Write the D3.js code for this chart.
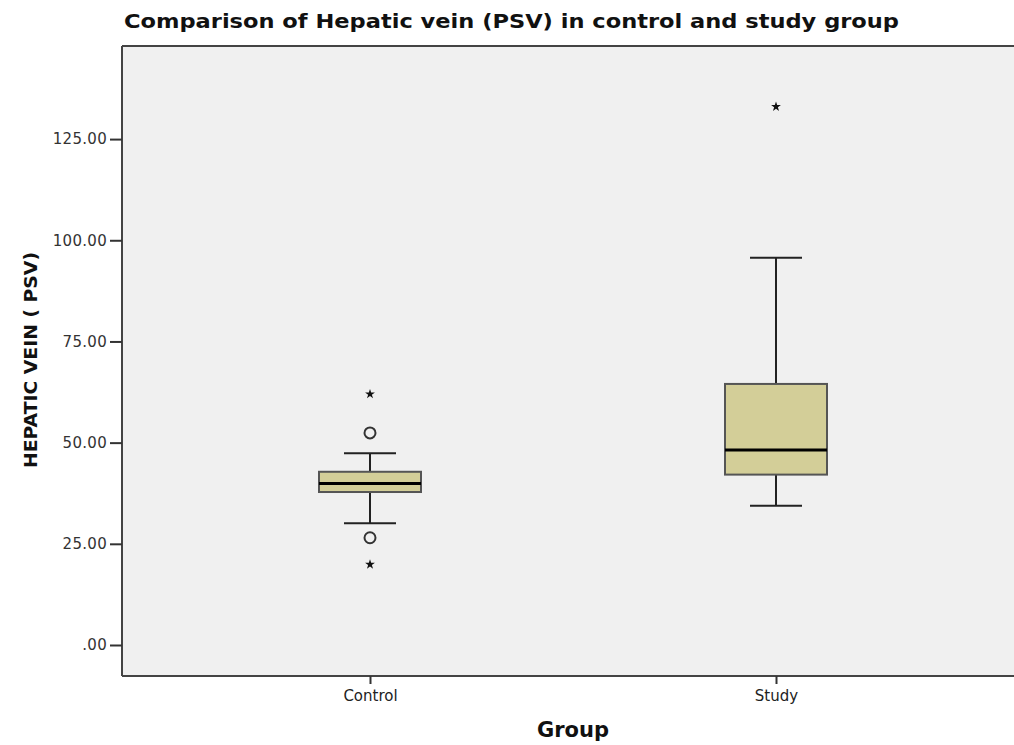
<!DOCTYPE html>
<html>
<head>
<meta charset="utf-8">
<script src="https://cdn.jsdelivr.net/npm/d3@7"></script>
<style>
  body { margin: 0; background: #fff; }
  text { font-family: "DejaVu Sans", "Liberation Sans", Arial, sans-serif; }
</style>
</head>
<body>
<div id="chart"></div>
<script>
// data
const groups = ["Control", "Study"];
const whiskerLow = [30.1, 34.4];
const q1 = [37.8, 42.1];
const median = [39.9, 48.2];
const q3 = [42.8, 64.5];
const whiskerHigh = [47.4, 95.7];
// outliers (circles) and extremes (stars)
const outliers = [
  {group: "Control", value: 52.4},
  {group: "Control", value: 26.5}
];
const extremes = [
  {group: "Control", value: 62.0},
  {group: "Control", value: 19.9},
  {group: "Study", value: 133.0}
];
const yTicks = [0, 25, 50, 75, 100, 125];

const width = 1014, height = 745;
const plotLeft = 122, plotTop = 46, plotRight = 1200, plotBottom = 676;
const font = "DejaVu Sans, Liberation Sans, Arial, sans-serif";

const svg = d3.select("#chart")
  .append("svg")
  .attr("width", width)
  .attr("height", height);

const x = d3.scalePoint()
  .domain(groups)
  .range([370, 776]);

const y = d3.scaleLinear()
  .domain([-7.66, 148])
  .range([plotBottom, plotTop]);

// plot background
svg.append("rect")
  .attr("x", plotLeft)
  .attr("y", plotTop)
  .attr("width", plotRight - plotLeft)
  .attr("height", plotBottom - plotTop)
  .attr("fill", "#f0f0f0");

// top border
svg.append("line")
  .attr("x1", plotLeft).attr("x2", width)
  .attr("y1", plotTop).attr("y2", plotTop)
  .attr("stroke", "#444").attr("stroke-width", 2);

// y axis
const yAxis = svg.append("g")
  .attr("transform", `translate(${plotLeft},0)`)
  .call(d3.axisLeft(y).tickValues(yTicks).tickSize(12).tickPadding(3)
    .tickFormat(d => d === 0 ? ".00" : d3.format(".2f")(d)));
yAxis.select(".domain").attr("stroke", "#444").attr("stroke-width", 2)
  .attr("d", `M0,${plotTop}V${plotBottom}`);
yAxis.selectAll(".tick line").attr("stroke", "#333").attr("stroke-width", 2);
yAxis.selectAll(".tick text").attr("font-size", 15).attr("fill", "#333")
  .attr("letter-spacing", 0.3)
  .attr("font-family", font);

// x axis
const xAxis = svg.append("g")
  .attr("transform", `translate(0,${plotBottom})`)
  .call(d3.axisBottom(x).tickSize(8).tickPadding(6));
xAxis.select(".domain").attr("stroke", "#444").attr("stroke-width", 2)
  .attr("d", `M${plotLeft},0H${width}`);
xAxis.selectAll(".tick line").attr("stroke", "#333").attr("stroke-width", 2);
xAxis.selectAll(".tick text").attr("font-size", 15).attr("fill", "#222")
  .attr("font-family", font);

// boxes
const boxHalf = 51, capHalf = 26;
const boxes = svg.selectAll(".box")
  .data(groups)
  .enter().append("g")
  .attr("class", "box");

// whiskers
boxes.append("line")
  .attr("x1", d => x(d)).attr("x2", d => x(d))
  .attr("y1", (d, i) => y(whiskerLow[i]))
  .attr("y2", (d, i) => y(whiskerHigh[i]))
  .attr("stroke", "#222").attr("stroke-width", 2);

boxes.append("line")
  .attr("x1", d => x(d) - capHalf).attr("x2", d => x(d) + capHalf)
  .attr("y1", (d, i) => y(whiskerLow[i]))
  .attr("y2", (d, i) => y(whiskerLow[i]))
  .attr("stroke", "#222").attr("stroke-width", 2);

boxes.append("line")
  .attr("x1", d => x(d) - capHalf).attr("x2", d => x(d) + capHalf)
  .attr("y1", (d, i) => y(whiskerHigh[i]))
  .attr("y2", (d, i) => y(whiskerHigh[i]))
  .attr("stroke", "#222").attr("stroke-width", 2);

boxes.append("rect")
  .attr("x", d => x(d) - boxHalf)
  .attr("width", boxHalf * 2)
  .attr("y", (d, i) => y(q3[i]))
  .attr("height", (d, i) => y(q1[i]) - y(q3[i]))
  .attr("fill", "#d3ce98")
  .attr("stroke", "#555").attr("stroke-width", 2);

boxes.append("line")
  .attr("x1", d => x(d) - boxHalf).attr("x2", d => x(d) + boxHalf)
  .attr("y1", (d, i) => y(median[i]))
  .attr("y2", (d, i) => y(median[i]))
  .attr("stroke", "#000").attr("stroke-width", 3);

// outlier circles
svg.selectAll(".outlier")
  .data(outliers)
  .enter().append("circle")
  .attr("cx", d => x(d.group))
  .attr("cy", d => y(d.value))
  .attr("r", 5.5)
  .attr("fill", "none")
  .attr("stroke", "#333").attr("stroke-width", 2);

// extreme stars
svg.selectAll(".extreme")
  .data(extremes)
  .enter().append("path")
  .attr("transform", d => `translate(${x(d.group)},${y(d.value)})`)
  .attr("d", d3.symbol().type(d3.symbolStar).size(30))
  .attr("fill", "#111");

// titles
svg.append("text")
  .attr("x", 124).attr("y", 28)
  .attr("font-size", 20).attr("font-weight", "bold")
  .attr("fill", "#111")
  .attr("textLength", 775).attr("lengthAdjust", "spacingAndGlyphs")
  .text("Comparison of Hepatic vein (PSV) in control and study group");

svg.append("text")
  .attr("x", 537).attr("y", 737)
  .attr("font-size", 21).attr("font-weight", "bold")
  .attr("fill", "#111")
  .attr("textLength", 72).attr("lengthAdjust", "spacingAndGlyphs")
  .text("Group");

svg.append("text")
  .attr("transform", `translate(37,468) rotate(-90)`)
  .attr("font-size", 18.5).attr("font-weight", "bold")
  .attr("fill", "#111")
  .attr("textLength", 216).attr("lengthAdjust", "spacingAndGlyphs")
  .text("HEPATIC VEIN ( PSV)");
</script>
</body>
</html>
